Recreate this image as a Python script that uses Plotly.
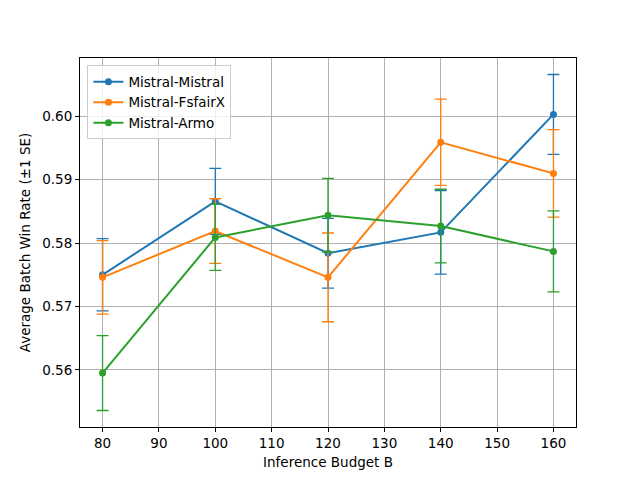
import plotly.graph_objects as go

budgets = [80, 100, 120, 140, 160]
series_names = ["Mistral-Mistral", "Mistral-FsfairX", "Mistral-Armo"]
mm_mean = [0.5750, 0.5866, 0.5784, 0.5817, 0.6003]
mm_se = [0.0057, 0.0052, 0.0055, 0.0066, 0.0063]
mf_mean = [0.5746, 0.5819, 0.5746, 0.5959, 0.5910]
mf_se = [0.0058, 0.0051, 0.0070, 0.0068, 0.0069]
ma_mean = [0.5595, 0.5809, 0.5844, 0.5827, 0.5787]
ma_se = [0.0059, 0.0052, 0.0058, 0.0058, 0.0064]
colors = ["#1f77b4", "#ff7f0e", "#2ca02c"]

x_ticks = [80, 90, 100, 110, 120, 130, 140, 150, 160]
y_ticks = [0.56, 0.57, 0.58, 0.59, 0.60]

fig = go.Figure()
for name, m, s, c in zip(series_names, [mm_mean, mf_mean, ma_mean],
                         [mm_se, mf_se, ma_se], colors):
    fig.add_trace(go.Scatter(
        x=budgets, y=m, name=name, mode="lines+markers",
        line=dict(color=c, width=2),
        marker=dict(color=c, size=7, symbol="circle"),
        error_y=dict(type="data", array=s, visible=True, color=c,
                     thickness=1.3, width=6),
    ))

font = "DejaVu Sans, sans-serif"
fs = 13.5
axis_common = dict(
    showline=True, linecolor="black", linewidth=1, mirror=True,
    ticks="outside", ticklen=4, tickcolor="black", tickwidth=1,
    showgrid=True, gridcolor="#b0b0b0", gridwidth=1, zeroline=False,
    tickfont=dict(family=font, size=fs, color="black"),
    automargin=False,
)

fig.update_layout(
    width=640, height=480,
    paper_bgcolor="white", plot_bgcolor="white",
    margin=dict(l=72, r=72, t=50, b=61),
    font=dict(family=font, size=fs, color="black"),
    xaxis=dict(range=[76, 164], tickvals=x_ticks,
               title=dict(text="Inference Budget B", font=dict(family=font, size=fs), standoff=7),
               **axis_common),
    yaxis=dict(range=[0.5510, 0.6092], tickvals=y_ticks, tickformat=".2f",
               title=dict(text="Average Batch Win Rate (±1 SE)", font=dict(family=font, size=fs), standoff=8),
               **axis_common),
    legend=dict(x=0.015, y=0.98, xanchor="left", yanchor="top",
                bgcolor="rgba(255,255,255,0.8)", bordercolor="#cccccc", borderwidth=1,
                font=dict(family=font, size=fs), tracegroupgap=0, itemwidth=30),
    showlegend=True,
)

fig.write_html("out.html")
